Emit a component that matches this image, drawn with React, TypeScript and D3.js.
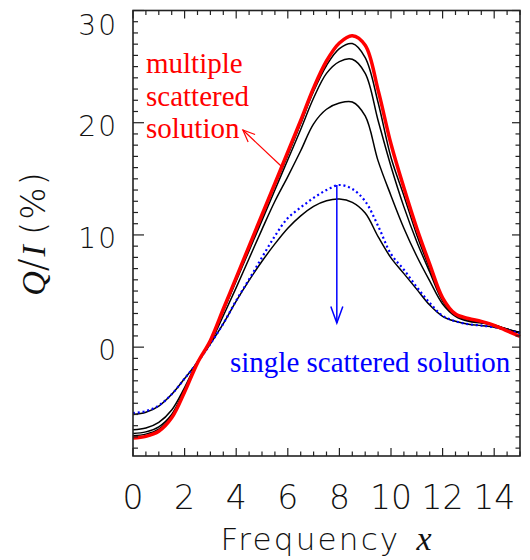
import React from 'react';
import * as d3 from 'd3';

// Frequency grid (x)
const xGrid = [0, 0.5, 1, 1.5, 2, 2.5, 3, 3.5, 4, 4.5, 5, 5.5, 6, 6.5, 7, 7.5, 8, 8.5, 9, 9.5, 10, 10.5, 11, 11.5, 12, 12.5, 13, 13.5, 14, 14.5, 15];

// Q/I (%) series
const singleScattered = [-5.88, -5.7, -5.2, -4.2, -2.8, -1.35, 0.3, 2.1, 4.15, 6.05, 8.0, 9.9, 11.5, 12.45, 13.3, 14.0, 14.45, 14.1, 13.0, 10.8, 8.3, 6.9, 5.35, 3.95, 2.8, 2.3, 2.05, 1.92, 1.78, 1.52, 1.25];
const iteration1 = [-6.0, -5.8, -5.25, -4.2, -2.8, -1.35, 0.3, 2.1, 4.1, 5.95, 7.65, 9.2, 10.6, 11.7, 12.55, 13.05, 13.2, 12.9, 11.95, 9.85, 7.95, 6.55, 5.15, 3.75, 2.75, 2.3, 2.05, 1.92, 1.78, 1.52, 1.25];
const iteration2 = [-7.36, -7.2, -6.7, -5.6, -3.6, -1.3, 0.4, 2.8, 5.3, 7.9, 10.5, 13.0, 15.2, 17.5, 19.9, 21.2, 21.75, 21.85, 20.6, 16.6, 13.5, 10.6, 8.1, 5.9, 3.85, 2.75, 2.3, 2.15, 1.95, 1.6, 1.3];
const iteration3 = [-7.7, -7.55, -7.1, -6.0, -3.8, -1.35, 0.5, 3.2, 5.9, 8.6, 11.3, 14.0, 16.7, 19.4, 22.2, 24.4, 25.45, 25.65, 24.4, 20.2, 16.1, 12.5, 9.4, 6.7, 4.1, 2.8, 2.4, 2.2, 1.95, 1.6, 1.3];
const iteration4 = [-7.9, -7.75, -7.3, -6.15, -3.9, -1.35, 0.55, 3.3, 6.1, 8.9, 11.6, 14.4, 17.1, 19.9, 22.8, 25.1, 26.6, 27.05, 25.8, 21.8, 16.9, 13.5, 10.0, 7.0, 4.3, 2.9, 2.5, 2.28, 1.97, 1.62, 1.3];
const multipleScattered = [-8.1, -7.95, -7.5, -6.3, -4.0, -1.4, 0.6, 3.4, 6.2, 9.0, 11.8, 14.6, 17.4, 20.2, 23.1, 25.5, 27.1, 27.75, 26.9, 22.9, 18.1, 14.2, 10.6, 7.4, 4.4, 2.95, 2.55, 2.3, 1.95, 1.45, 0.95];

const blackSeries = [iteration1, iteration2, iteration3, iteration4];

// Tick labels
const xTickLabels = [0, 2, 4, 6, 8, 10, 12, 14];
const yTickLabels = [0, 10, 20, 30];

// Annotation texts and arrow anchors (data coords)
const redLabelLines = ['multiple', 'scattered', 'solution'];
const blueLabel = 'single scattered solution';
const redArrow = { from: [5.78, 16.05], to: [4.26, 19.35] };
const blueArrow = { from: [7.9, 14.45], to: [7.9, 2.15] };

export default function App() {
  const W = 530, H = 560;
  const left = 133, right = 520, top = 10.5, bottom = 456;
  const x = d3.scaleLinear().domain([0, 15]).range([left, right]);
  const y = d3.scaleLinear().domain([-9.7, 30]).range([bottom, top]);

  const line = d3.line<number>()
    .x((_, i) => x(xGrid[i]))
    .y((d) => y(d))
    .curve(d3.curveCatmullRom.alpha(0.5));

  const xMinor = d3.range(0, 15.001, 0.5);
  const yMinor = d3.range(-9, 30.001, 1);
  const axisColor = '#222';
  const labelFont = '"DejaVu Sans", sans-serif';
  const serif = '"Liberation Serif", "Times New Roman", serif';

  const arrowHead = (from: number[], to: number[], len: number, ang: number) => {
    const x1 = x(from[0]), y1 = y(from[1]), x2 = x(to[0]), y2 = y(to[1]);
    const a = Math.atan2(y1 - y2, x1 - x2);
    const p1 = [x2 + len * Math.cos(a + ang), y2 + len * Math.sin(a + ang)];
    const p2 = [x2 + len * Math.cos(a - ang), y2 + len * Math.sin(a - ang)];
    return `M${p1[0]},${p1[1]}L${x2},${y2}L${p2[0]},${p2[1]}`;
  };

  return (
    <svg width={W} height={H} style={{ position: 'absolute', left: 0, top: 0, background: '#fff' }}>
      <rect x={0} y={0} width={W} height={H} fill="#fff" />
      {/* curves */}
      <g fill="none">
        {blackSeries.map((s, i) => (
          <path key={i} d={line(s) || ''} stroke="#000" strokeWidth={1.5} />
        ))}
        <path d={line(singleScattered) || ''} stroke="#0000ff" strokeWidth={2.2} strokeDasharray="2 2.8" />
        <path d={line(multipleScattered) || ''} stroke="#ff0000" strokeWidth={3.5} />
      </g>

      {/* frame */}
      <rect x={left} y={top} width={right - left} height={bottom - top} fill="none" stroke={axisColor} strokeWidth={1.6} />
      {/* x ticks */}
      {xMinor.map((v) => {
        const major = Math.abs(v % 2) < 1e-6;
        const len = major ? 8 : 4.5;
        return (
          <g key={'xt' + v} stroke={axisColor} strokeWidth={1.2}>
            <line x1={x(v)} x2={x(v)} y1={bottom} y2={bottom - len} />
            <line x1={x(v)} x2={x(v)} y1={top} y2={top + len} />
          </g>
        );
      })}
      {/* y ticks */}
      {yMinor.map((v) => {
        const major = Math.abs(v % 10) < 1e-6;
        const lenL = major ? 11 : 5;
        const lenR = major ? 8 : 4.5;
        return (
          <g key={'yt' + v} stroke={axisColor} strokeWidth={1.2}>
            <line x1={left} x2={left + lenL} y1={y(v)} y2={y(v)} />
            <line x1={right} x2={right - lenR} y1={y(v)} y2={y(v)} />
          </g>
        );
      })}

      {/* tick labels */}
      {xTickLabels.map((v) => (
        <text key={'xl' + v} x={x(v)} y={509} textAnchor="middle" fontFamily={labelFont} fontWeight={200}
          fontSize={33} fill="#111">{v}</text>
      ))}
      {yTickLabels.map((v) => (
        <text key={'yl' + v} x={118} y={Math.max(y(v) + 3, 25)} dy="0.36em" textAnchor="end" fontFamily={labelFont}
          fontWeight={200} fontSize={28} letterSpacing={2} fill="#111">{v}</text>
      ))}

      {/* axis titles */}
      <text x={326} y={550} textAnchor="middle" fill="#111">
        <tspan fontFamily={labelFont} fontWeight={200} fontSize={31} letterSpacing={2.2}>Frequency</tspan>
        <tspan fontFamily={serif} fontStyle="italic" fontSize={34} dx={16}>x</tspan>
      </text>
      <text transform={`translate(45,233) rotate(-90)`} textAnchor="middle" fill="#111">
        <tspan fontFamily={serif} fontStyle="italic" fontWeight={400} fontSize={34}>Q</tspan>
        <tspan fontFamily={labelFont} fontWeight={200} fontSize={38}>/</tspan>
        <tspan fontFamily={serif} fontStyle="italic" fontWeight={400} fontSize={34} dx={2}>I</tspan>
        <tspan fontFamily={labelFont} fontWeight={200} fontSize={34} dx={10} letterSpacing={2}>(%)</tspan>
      </text>

      {/* annotations */}
      {redLabelLines.map((t, i) => (
        <text key={t} x={146} y={73 + i * 32.5} fontFamily={serif} fontSize={29} fill="#ff0000">{t}</text>
      ))}
      <line x1={x(redArrow.from[0])} y1={y(redArrow.from[1])} x2={x(redArrow.to[0])} y2={y(redArrow.to[1])} stroke="#ff0000" strokeWidth={1.2} />
      <path d={arrowHead(redArrow.from, redArrow.to, 13, 0.4)} fill="none" stroke="#ff0000" strokeWidth={1.2} />

      <text x={230} y={372} fontFamily={serif} fontSize={29} fill="#0000ff">{blueLabel}</text>
      <line x1={x(blueArrow.from[0])} y1={y(blueArrow.from[1])} x2={x(blueArrow.to[0])} y2={y(blueArrow.to[1])} stroke="#0000ff" strokeWidth={1.5} />
      <path d={arrowHead(blueArrow.from, blueArrow.to, 17.5, 0.35)} fill="none" stroke="#0000ff" strokeWidth={1.5} />
    </svg>
  );
}
